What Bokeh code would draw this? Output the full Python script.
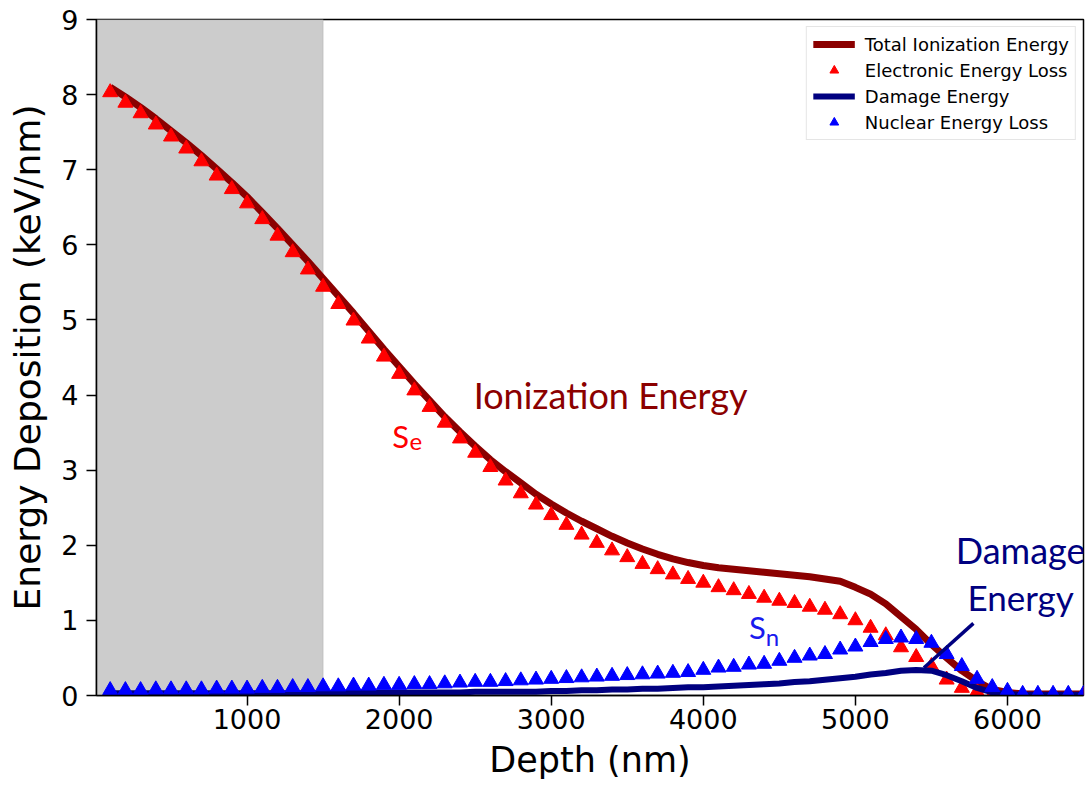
from bokeh.plotting import figure
from bokeh.models import Range1d, BoxAnnotation, Label, FixedTicker
from bokeh.embed import file_html
from bokeh.resources import INLINE

# ---------------- data ----------------
depth = [100, 200, 300, 400, 500, 600, 700, 800, 900, 1000,
         1100, 1200, 1300, 1400, 1500, 1600, 1700, 1800, 1900, 2000,
         2100, 2200, 2300, 2400, 2500, 2600, 2700, 2800, 2900, 3000,
         3100, 3200, 3300, 3400, 3500, 3600, 3700, 3800, 3900, 4000,
         4100, 4200, 4300, 4400, 4500, 4600, 4700, 4800, 4900, 5000,
         5100, 5200, 5300, 5400, 5500, 5600, 5700, 5800, 5900, 6000,
         6100, 6200, 6300, 6400, 6500]

total_ionization = [8.10, 7.97, 7.83, 7.68, 7.52, 7.36, 7.19, 7.01, 6.83, 6.64,
                    6.43, 6.22, 6.00, 5.78, 5.55, 5.32, 5.09, 4.85, 4.61, 4.38,
                    4.15, 3.93, 3.71, 3.51, 3.32, 3.14, 2.98, 2.83, 2.68, 2.55,
                    2.43, 2.32, 2.22, 2.12, 2.03, 1.95, 1.88, 1.82, 1.77, 1.73,
                    1.70, 1.68, 1.66, 1.64, 1.62, 1.60, 1.58, 1.55, 1.52, 1.44,
                    1.35, 1.22, 1.05, 0.88, 0.68, 0.50, 0.33, 0.19, 0.08, 0.04,
                    0.02, 0.02, 0.02, 0.02, 0.02]

electronic_loss = [8.03, 7.89, 7.75, 7.60, 7.44, 7.28, 7.11, 6.92, 6.74, 6.55,
                   6.34, 6.12, 5.90, 5.67, 5.44, 5.21, 4.99, 4.75, 4.51, 4.28,
                   4.06, 3.84, 3.63, 3.42, 3.23, 3.04, 2.86, 2.69, 2.54, 2.40,
                   2.27, 2.14, 2.03, 1.93, 1.84, 1.75, 1.68, 1.61, 1.55, 1.50,
                   1.44, 1.40, 1.35, 1.30, 1.26, 1.23, 1.18, 1.14, 1.08, 1.00,
                   0.90, 0.80, 0.64, 0.51, 0.39, 0.21, 0.10, 0.05, 0.01, 0.0,
                   0.0, 0.0, 0.0, 0.0, 0.0]

damage_energy = [0.03, 0.03, 0.03, 0.03, 0.03, 0.03, 0.03, 0.03, 0.03, 0.03,
                 0.03, 0.03, 0.03, 0.03, 0.03, 0.04, 0.04, 0.04, 0.04, 0.04,
                 0.04, 0.04, 0.04, 0.04, 0.05, 0.05, 0.05, 0.05, 0.05, 0.06,
                 0.06, 0.07, 0.07, 0.08, 0.08, 0.09, 0.09, 0.10, 0.11, 0.11,
                 0.12, 0.13, 0.14, 0.15, 0.16, 0.18, 0.19, 0.21, 0.23, 0.25,
                 0.28, 0.30, 0.33, 0.34, 0.33, 0.27, 0.19, 0.10, 0.04, 0.02,
                 0.01, 0.01, 0.01, 0.01, 0.01]

nuclear_loss = [0.07, 0.07, 0.07, 0.08, 0.08, 0.08, 0.08, 0.09, 0.09, 0.09,
                0.10, 0.10, 0.11, 0.11, 0.12, 0.12, 0.13, 0.13, 0.14, 0.14,
                0.15, 0.15, 0.16, 0.17, 0.18, 0.18, 0.19, 0.20, 0.21, 0.22,
                0.23, 0.24, 0.25, 0.26, 0.27, 0.28, 0.29, 0.30, 0.31, 0.34,
                0.37, 0.38, 0.41, 0.42, 0.46, 0.50, 0.53, 0.55, 0.61, 0.65,
                0.71, 0.75, 0.77, 0.75, 0.70, 0.55, 0.39, 0.22, 0.11, 0.06,
                0.02, 0.02, 0.02, 0.02, 0.02]

shaded_end = 1500
x_ticks = [1000, 2000, 3000, 4000, 5000, 6000]
y_ticks = [0, 1, 2, 3, 4, 5, 6, 7, 8, 9]
pointer_x = [5451, 5776]
pointer_y = [0.37, 0.96]

# ---------------- figure ----------------
p = figure(width=1087, height=789, output_backend="svg", toolbar_location=None,
           x_range=Range1d(10, 6500), y_range=Range1d(0, 9),
           min_border_left=96, min_border_right=4, min_border_top=19, min_border_bottom=94)

p.background_fill_color = "white"
p.border_fill_color = "white"
p.outline_line_color = "black"
p.outline_line_width = 1.5
p.outline_line_alpha = 1.0
p.xgrid.visible = False
p.ygrid.visible = False

p.add_layout(BoxAnnotation(right=shaded_end, fill_color="#cccccc", fill_alpha=1.0,
                           line_color="#aaaaaa", line_width=1.5, level="underlay"))

p.line(depth, total_ionization, line_color="#8B0000", line_width=7,
       legend_label="Total Ionization Energy")
p.scatter(depth, electronic_loss, marker="triangle", size=15, fill_color="#FF0000",
          line_color="#FF0000", legend_label="Electronic Energy Loss")
p.line(depth, damage_energy, line_color="#000080", line_width=6,
       legend_label="Damage Energy")
p.scatter(depth, nuclear_loss, marker="triangle", size=15, fill_color="#0000FF",
          line_color="#0000FF", legend_label="Nuclear Energy Loss")

p.line(pointer_x, pointer_y, line_color="#000080", line_width=3.5)

# axes
for ax in (p.xaxis[0], p.yaxis[0]):
    ax.major_tick_out = 10
    ax.major_tick_in = 0
    ax.minor_tick_out = 0
    ax.minor_tick_in = 0
    ax.major_tick_line_width = 1.5
    ax.major_tick_line_color = "black"
    ax.axis_line_color = "black"
    ax.axis_line_width = 1.5
    ax.major_label_text_font = "DejaVu Sans"
    ax.major_label_text_font_size = "27px"
    ax.major_label_text_color = "black"
    ax.axis_label_text_font = "DejaVu Sans"
    ax.axis_label_text_font_style = "normal"
    ax.axis_label_text_color = "black"

p.xaxis.ticker = FixedTicker(ticks=x_ticks)
p.yaxis.ticker = FixedTicker(ticks=y_ticks)
p.xaxis.axis_label = "Depth (nm)"
p.yaxis.axis_label = "Energy Deposition (keV/nm)"
p.xaxis.axis_label_text_font_size = "35px"
p.yaxis.axis_label_text_font_size = "36px"
p.xaxis.major_label_standoff = 3
p.yaxis.major_label_standoff = 8
p.xaxis.axis_label_standoff = 8
p.yaxis.axis_label_standoff = 10

# legend
lg = p.legend[0]
lg.location = "top_right"
lg.label_text_font = "DejaVu Sans"
lg.label_text_font_size = "18px"
lg.label_text_color = "black"
lg.border_line_color = "#cccccc"
lg.border_line_width = 1
lg.background_fill_alpha = 1.0
lg.padding = 6
lg.spacing = 4
lg.glyph_width = 42
lg.glyph_height = 22
lg.label_height = 22
lg.label_standoff = 10
lg.margin = 7

# annotations
p.add_layout(Label(x=2490, y=4.00, text="Ionization Energy", text_font="Lato",
                   text_font_size="36px", text_color="#8B0000", text_baseline="alphabetic"))
p.add_layout(Label(x=1954, y=3.46, text="S", text_font="Lato",
                   text_font_size="31px", text_color="#FF0000", text_baseline="alphabetic"))
p.add_layout(Label(x=2068, y=3.38, text="e", text_font="Lato",
                   text_font_size="24px", text_color="#FF0000", text_baseline="alphabetic"))
p.add_layout(Label(x=4300, y=0.91, text="S", text_font="Lato",
                   text_font_size="31px", text_color="#1A1AEE", text_baseline="alphabetic"))
p.add_layout(Label(x=4410, y=0.78, text="n", text_font="Lato",
                   text_font_size="24px", text_color="#1A1AEE", text_baseline="alphabetic"))
p.add_layout(Label(x=6087, y=1.94, text="Damage", text_font="Lato", text_align="center",
                   text_font_size="36px", text_color="#000080", text_baseline="alphabetic"))
p.add_layout(Label(x=6087, y=1.31, text="Energy", text_font="Lato", text_align="center",
                   text_font_size="35px", text_color="#000080", text_baseline="alphabetic"))

open("out.html", "w").write(file_html(p, INLINE))
